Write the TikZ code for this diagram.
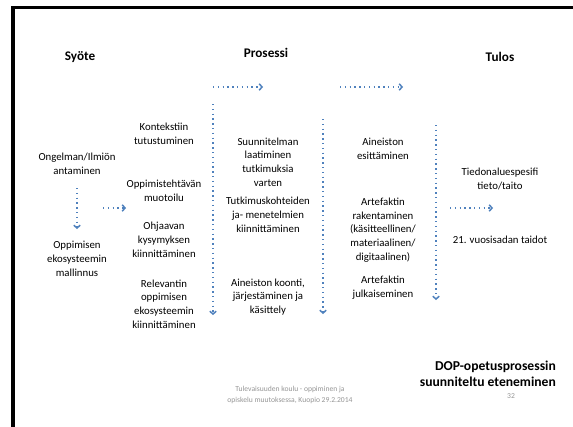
\documentclass[tikz,border=0pt]{standalone}
\usepackage{fontspec}
\setmainfont{Carlito}
\usetikzlibrary{arrows.meta}
\definecolor{flowblue}{RGB}{79,129,189}
\definecolor{footgray}{RGB}{150,150,150}
\begin{document}
\begin{tikzpicture}[x=1pt,y=-1pt,
  txt/.style={align=center,font=\fontsize{10.8}{13.8}\selectfont,inner sep=0pt},
  head/.style={font=\fontsize{13.2}{16}\selectfont\bfseries,inner sep=0pt},
  flow/.style={flowblue,line width=1.5pt,dash pattern=on 1.4pt off 3.4pt,
    -{Straight Barb[length=2.8pt,width=6.5pt,line width=1.5pt]}},
  frameline/.style={black,line width=3.2pt,line cap=rect},
]
\fill[white] (0,0) rectangle (573,426);
\useasboundingbox (0,0) rectangle (573,426);

% column headings
\node[head] (syote) at (80,57) {Syöte};
\node[head] (prosessi) at (266,53) {Prosessi};
\node[head] (tulos) at (500,57) {Tulos};

\coordinate (a1s) at (213,87);
\coordinate (a1e) at (263,87);
\coordinate (a2s) at (340,87);
\coordinate (a2e) at (403,87);
\draw[flow] (a1s) -- (a1e);
\draw[flow] (a2s) -- (a2e);

% input
\node[txt] (ongelma) at (77,164) {Ongelman/Ilmiön\\antaminen};
\node[txt] (malli) at (77,259) {Oppimisen\\ekosysteemin\\mallinnus};
\coordinate (v0s) at (77,188);
\coordinate (v0e) at (77,229);
\draw[flow] (v0s) -- (v0e);
\coordinate (h0s) at (103,208);
\coordinate (h0e) at (126,208);
\draw[flow] (h0s) -- (h0e);

% process, first column
\node[txt] (konteksti) at (164,134) {Kontekstiin\\tutustuminen};
\node[txt] (tehtava) at (164,191) {Oppimistehtävän\\muotoilu};
\node[txt] (kysymys) at (164,240) {Ohjaavan\\kysymyksen\\kiinnittäminen};
\node[txt] (relevantti) at (164,304) {Relevantin\\oppimisen\\ekosysteemin\\kiinnittäminen};
\coordinate (v1s) at (213,104);
\coordinate (v1e) at (213,315);
\draw[flow] (v1s) -- (v1e);

% process, second column
\node[txt] (suunnitelma) at (268,162) {Suunnitelman\\laatiminen\\tutkimuksia\\varten};
\node[txt] (kohteet) at (268,215) {Tutkimuskohteiden\\ja- menetelmien\\kiinnittäminen};
\node[txt] (koonti) at (268,297) {Aineiston koonti,\\järjestäminen ja\\käsittely};
\coordinate (v2s) at (323,119);
\coordinate (v2e) at (323,314);
\draw[flow] (v2s) -- (v2e);

% process, third column
\node[txt] (esitys) at (383,149) {Aineiston\\esittäminen};
\node[txt] (rakennus) at (383,230) {Artefaktin\\rakentaminen\\(käsitteellinen/\\materiaalinen/\\digitaalinen)};
\node[txt] (julkaisu) at (383,288) {Artefaktin\\julkaiseminen};
\coordinate (v3s) at (436,125);
\coordinate (v3e) at (436,300);
\draw[flow] (v3s) -- (v3e);

% output
\node[txt] (tieto) at (500,179) {Tiedonaluespesifi\\tieto/taito};
\node[txt] (taidot) at (500,240) {21. vuosisadan taidot};
\coordinate (h3s) at (450,208);
\coordinate (h3e) at (493,208);
\draw[flow] (h3s) -- (h3e);

% slide title
\node[align=right,anchor=east,inner sep=0pt,font=\fontsize{13.6}{16.5}\selectfont\bfseries] (otsikko) at (556,374)
  {DOP-opetusprosessin\\suunniteltu eteneminen};

% footer
\node[align=center,inner sep=0pt,text=footgray,font=\fontsize{7.6}{11.5}\selectfont] (alaviite) at (290,395)
  {Tulevaisuuden koulu - oppiminen ja\\opiskelu muutoksessa, Kuopio 29.2.2014};
\node[inner sep=0pt,text=footgray,font=\fontsize{7.6}{9}\selectfont] (sivu) at (511,396) {32};

% slide frame: left and top edges
\coordinate (fb) at (13,430);
\coordinate (fc) at (13,7.5);
\coordinate (fr) at (580,7.5);
\draw[frameline] (fb) -- (fc) -- (fr);
\end{tikzpicture}
\end{document}
